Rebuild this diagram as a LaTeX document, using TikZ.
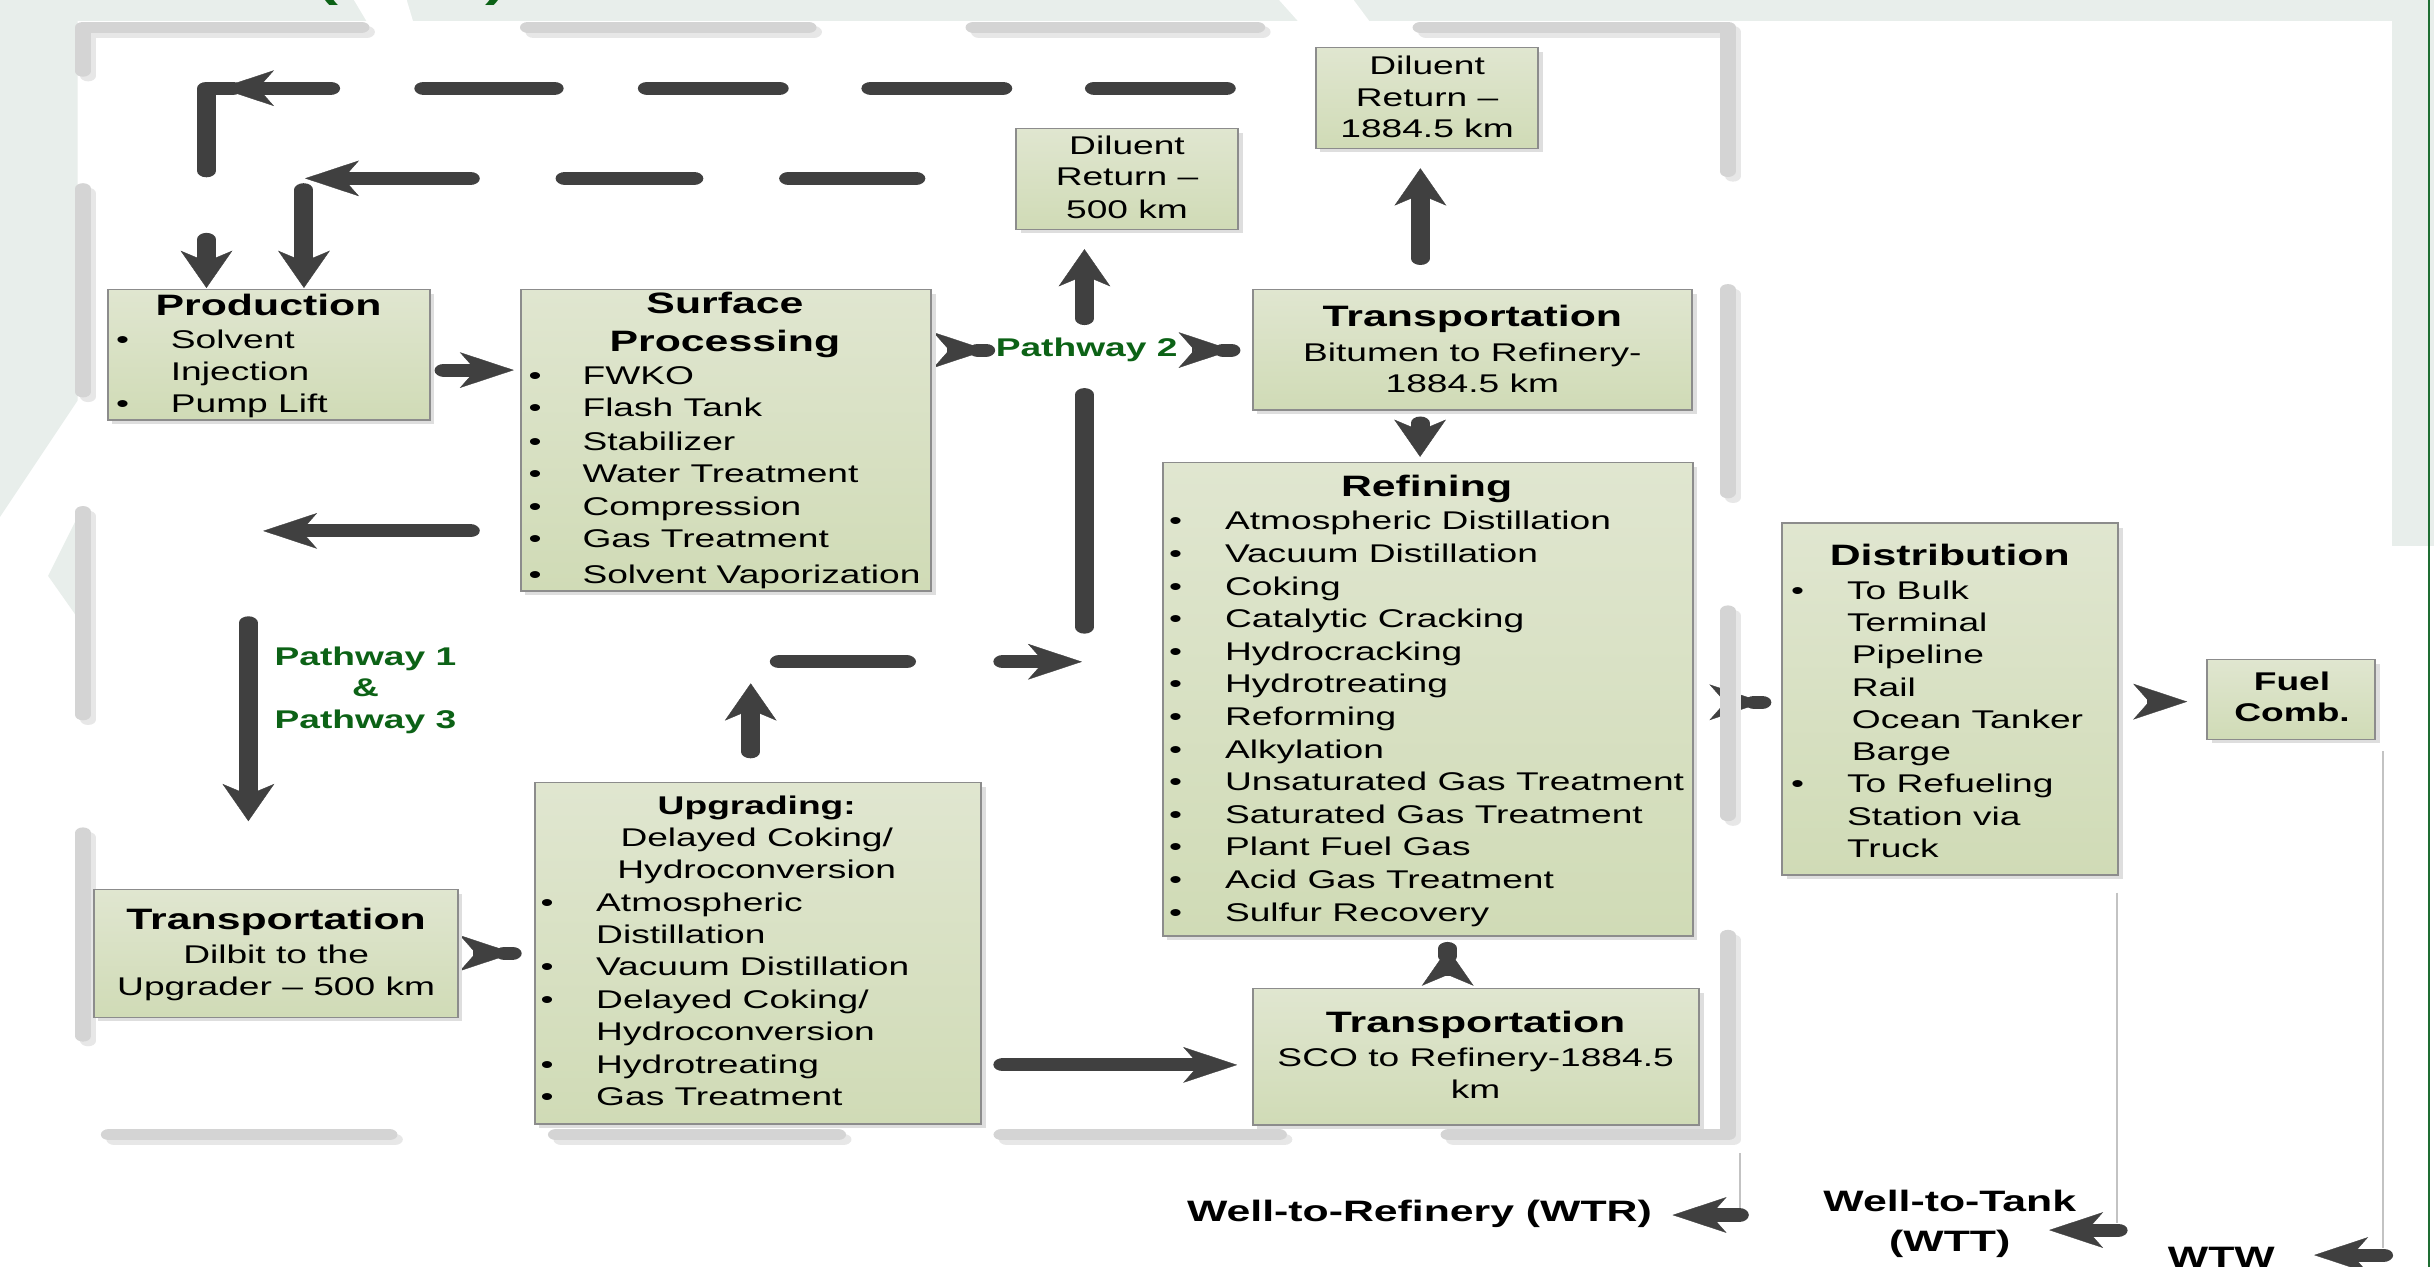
\documentclass[tikz,border=0pt]{standalone}
\usepackage{fontspec}
\setmainfont{Liberation Sans}
\usetikzlibrary{arrows.meta,fit}
\definecolor{bgc}{RGB}{232,238,235}
\definecolor{arr}{RGB}{64,64,64}
\definecolor{pgreen}{RGB}{12,98,22}
\definecolor{boxtop}{RGB}{224,230,208}
\definecolor{boxbot}{RGB}{208,219,182}
\definecolor{boxline}{RGB}{140,140,140}
\definecolor{shc}{RGB}{222,222,222}
\definecolor{brd}{RGB}{212,212,212}
\definecolor{brdsh}{RGB}{231,231,231}
\definecolor{thinc}{RGB}{195,195,195}
\definecolor{edgegreen}{RGB}{30,110,50}
\tikzset{
  conn/.style={draw=arr, line width=4.2pt, line cap=round, line join=round},
  brdline/.style={draw=brd, line width=3.6pt, line cap=round, line join=round},
  brdshadow/.style={draw=brdsh, line width=3.6pt, line cap=round, line join=round},
  thinl/.style={draw=thinc, line width=0.4pt},
  box/.style={draw=boxline, line width=0.45pt, top color=boxtop, bottom color=boxbot, inner sep=0pt, outer sep=0pt},
  tx/.style={inner sep=0pt, anchor=base, font=\fontsize{8.25}{10}\selectfont},
  txl/.style={tx, anchor=base west},
  ttl/.style={inner sep=0pt, anchor=base, font=\bfseries\fontsize{9.5}{11}\selectfont},
  sttl/.style={inner sep=0pt, anchor=base, font=\bfseries\fontsize{8.25}{10}\selectfont},
  pw/.style={sttl, text=pgreen},
  bl/.style={inner sep=0pt, anchor=base, font=\bfseries\fontsize{9.5}{11}\selectfont},
}
\newcommand{\dbox}[5]{%
  \fill[shc] (#2+3,#3+3) rectangle (#4+3,#5+2.6);
  \node[box, fit={(#2,#3) (#4,#5)}] (#1) {};}
\newcommand{\brdpaths}[1]{%
  \draw[#1] (53.4,45.8) -- (53.4,17.6) -- (232.8,17.6);
  \draw[#1] (340.2,17.6) -- (520.8,17.6);
  \draw[#1] (627.2,17.6) -- (809.8,17.6);
  \draw[#1] (915.2,17.6) -- (1113,17.6) -- (1113,110.4);
  \draw[#1] (1113,186.6) -- (1113,317.4);
  \draw[#1] (1113,393.6) -- (1113,525.4);
  \draw[#1] (1113,602.6) -- (1113,731) -- (933.2,731);
  \draw[#1] (70.2,731) -- (250.8,731);
  \draw[#1] (358.2,731) -- (539.8,731);
  \draw[#1] (645.2,731) -- (823.8,731);
  \draw[#1] (53.4,121.6) -- (53.4,252.4);
  \draw[#1] (53.4,329.6) -- (53.4,460.4);
  \draw[#1] (53.4,536.6) -- (53.4,667.4);}
\begin{document}
\begin{tikzpicture}[x=0.5pt,y=-0.5pt]
\useasboundingbox (0,0) rectangle (1568,816);
\clip (0,0) rectangle (1568,816);
\fill[white] (0,0) rectangle (1568,816);
% background template
\fill[bgc] (0,0) rectangle (1568,13.3);
\fill[bgc] (0,0) -- (50,0) -- (50,258) -- (0,333) -- cycle;
\fill[bgc] (50,333) -- (31,371) -- (50,398) -- cycle;
\fill[bgc] (1541,0) rectangle (1568,352);
\fill[white] (228,0) -- (262,0) -- (266,13.4) -- (236,13.4) -- cycle;
\fill[white] (824,0) -- (872,0) -- (882,13.4) -- (836,13.4) -- cycle;
\draw[edgegreen, line width=0.7pt] (1565,0) -- (1565,816);

\begin{scope}[transform canvas={xscale=1.45}, x=0.344828pt, y=-0.5pt,
  >={Stealth[length=12pt,width=11.5pt,inset=3.5pt,line width=0.1pt]}]
% cut-off title parentheses
\node[inner sep=0pt, anchor=base, text=pgreen, font=\bfseries\fontsize{14}{14}\selectfont] (parL) at (211,-2) {(};
\node[inner sep=0pt, anchor=base, text=pgreen, font=\bfseries\fontsize{14}{14}\selectfont] (parR) at (319.5,-2) {)};

% ---------- connectors ----------
% top dashed return (1884.5 km)
\draw[conn] (133,110) -- (133,56.8) -- (150,56.8);
\draw[conn,->] (213,56.8) -- (141.7,56.8);
\foreach \a/\b in {273/357,417/502,561/646,705/790} \draw[conn] (\a,56.8) -- (\b,56.8);
\draw[conn,->] (133,154.2) -- (133,185.5);
% dashed return (500 km)
\draw[conn,->] (303,114.9) -- (196.5,114.9);
\foreach \a/\b in {364/447,508/590} \draw[conn] (\a,114.9) -- (\b,114.9);
\draw[conn,->] (195.8,122.2) -- (195.8,185.5);
% production -> surface
\draw[conn,->] (286,238.4) -- (331,238.4);
% surface -> left
\draw[conn,->] (303,342) -- (169.5,342);
% pathway 1 & 3
\draw[conn,->] (160,401.2) -- (160,529);
% upgrading up
\draw[conn,->] (483.6,484.3) -- (483.6,440.2);
\draw[conn] (502,426.3) -- (584,426.3);
\draw[conn,->] (646,426.3) -- (697,426.3);
\draw[conn] (698.6,254.2) -- (698.6,404);
\draw[conn,->] (698.6,205.2) -- (698.6,160.5);
% bitumen transport -> diluent 1884.5
\draw[conn,->] (915,166.5) -- (915,108.4);
% bitumen transport -> refining
\draw[conn,->] (914.8,272.5) -- (914.8,294.3);
% SCO -> refining
\draw[conn,->,line cap=butt] (932.6,629) -- (932.6,611);
\draw[conn] (932.6,611) -- (932.6,616);
% pathway 2 flares
\draw[conn,->,line cap=butt] (610,225.5) -- (636,225.5);
\draw[conn] (630,225.5) -- (635,225.5);
\draw[conn,->,line cap=butt] (768,225.5) -- (794,225.5);
\draw[conn] (788,225.5) -- (793,225.5);
% dilbit -> upgrading
\draw[conn,->,line cap=butt] (305,614) -- (331,614);
\draw[conn] (325,614) -- (330,614);
% refining -> distribution
\draw[conn,->,line cap=butt] (1110,452.4) -- (1136,452.4);
\draw[conn] (1130,452.4) -- (1135,452.4);
% distribution -> fuel comb
\draw[conn,->,line cap=butt] (1383,452) -- (1409,452);
% upgrading -> SCO transport
\draw[conn,->] (646,686) -- (797,686);
% bottom scope arrows
\draw[thinl] (1121,743) -- (1121,779);
\draw[conn,->] (1120.5,782.7) -- (1077.4,782.7);
\draw[thinl] (1364,575) -- (1364,788);
\draw[conn,->] (1364.5,792.4) -- (1320,792.4);
\draw[thinl] (1535,484) -- (1535,804);
\draw[conn,->] (1535.5,808.5) -- (1490.7,808.5);

% ---------- grey dashed boundary ----------
\begin{scope}[shift={(3.5,3)}]\brdpaths{brdshadow}\end{scope}
\brdpaths{brdline}

% ---------- boxes ----------
\dbox{prod}{69.4}{186.4}{276.7}{270.6}
\dbox{surf}{335.4}{186.4}{599.8}{380.7}
\dbox{dilA}{654.4}{82.7}{797.5}{147.7}
\dbox{dilB}{847.6}{30.7}{991}{95.6}
\dbox{tbit}{807}{186.4}{1090}{264}
\dbox{refi}{749}{298}{1090.4}{603}
\dbox{dist}{1148}{337}{1364.5}{563.7}
\dbox{fuel}{1422}{424.7}{1530}{476.3}
\dbox{tdil}{60.4}{572.9}{294.9}{655.4}
\dbox{upgr}{344.5}{504.2}{632}{724}
\dbox{tsco}{807}{636.7}{1094.6}{724.7}

% ---------- texts ----------
% production
\node[ttl] (prodT) at (173,203) {Production};
\node[tx] (prodB1) at (79,224.5) {\textbullet};
\node[txl] (prodL1) at (109.5,224.5) {Solvent};
\node[txl] (prodL2) at (109.5,245.3) {Injection};
\node[tx] (prodB2) at (79,266) {\textbullet};
\node[txl] (prodL3) at (109.5,266) {Pump Lift};
% surface processing
\node[ttl] (surfT1) at (467,202) {Surface};
\node[ttl] (surfT2) at (467,226.5) {Processing};
\foreach \t/\yy [count=\i] in {FWKO/248, Flash Tank/268.6, Stabilizer/290, Water Treatment/311, Compression/331.8, Gas Treatment/353, Solvent Vaporization/375.8}{
  \node[tx] (surfB\i) at (344.7,\yy) {\textbullet};
  \node[txl] (surfL\i) at (374.7,\yy) {\t};
}
% diluent returns
\node[tx] (dilA1) at (726,99.2) {Diluent};
\node[tx] (dilA2) at (726,119.8) {Return \textendash};
\node[tx] (dilA3) at (726,140.6) {500 km};
\node[tx] (dilB1) at (919.3,47.7) {Diluent};
\node[tx] (dilB2) at (919.3,68.3) {Return \textendash};
\node[tx] (dilB3) at (919.3,88.6) {1884.5 km};
% bitumen transport
\node[ttl] (tbitT) at (948.5,210.4) {Transportation};
\node[tx] (tbit1) at (948.5,232.6) {Bitumen to Refinery-};
\node[tx] (tbit2) at (948.5,252.8) {1884.5 km};
% pathway labels
\node[pw] (pw2) at (700,229.8) {Pathway 2};
\node[pw] (pw1) at (235.4,428.4) {Pathway 1};
\node[pw] (pwand) at (235.4,448.6) {\&};
\node[pw] (pw3) at (235.4,469.2) {Pathway 3};
% refining
\node[ttl] (refT) at (919,320) {Refining};
\foreach \t [count=\i from 0] in {Atmospheric Distillation, Vacuum Distillation, Coking, Catalytic Cracking, Hydrocracking, Hydrotreating, Reforming, Alkylation, Unsaturated Gas Treatment, Saturated Gas Treatment, Plant Fuel Gas, Acid Gas Treatment, Sulfur Recovery}{
  \node[tx] (refB\i) at (757.4,341.4+21*\i) {\textbullet};
  \node[txl] (refL\i) at (788.6,341.4+21*\i) {\t};
}
% distribution
\node[ttl] (distT) at (1256,364) {Distribution};
\node[tx] (distB1) at (1158,386) {\textbullet};
\node[tx] (distB2) at (1158,510.8) {\textbullet};
\foreach \t/\xx [count=\i from 0] in {To Bulk/1189.3, Terminal/1189.3, Pipeline/1192.4, Rail/1192.4, Ocean Tanker/1192.4, Barge/1192.4, To Refueling/1189.3, Station via/1189.3, Truck/1189.3}{
  \node[txl] (distL\i) at (\xx,386+20.8*\i) {\t};
}
% fuel comb
\node[sttl] (fuel1) at (1476.5,444.5) {Fuel};
\node[sttl] (fuel2) at (1476.5,465) {Comb.};
% dilbit transport
\node[ttl] (tdilT) at (177.9,599) {Transportation};
\node[tx] (tdil1) at (177.9,620.6) {Dilbit to the};
\node[tx] (tdil2) at (177.9,641.4) {Upgrader \textendash{} 500 km};
% upgrading
\node[sttl] (upgT) at (487.5,525) {Upgrading:};
\node[tx] (upg1) at (487.5,545.4) {Delayed Coking/};
\node[tx] (upg2) at (487.5,565.8) {Hydroconversion};
\node[tx] (upgB1) at (352.4,587.3) {\textbullet};
\node[txl] (upgL1) at (383.5,587.3) {Atmospheric};
\node[txl] (upgL2) at (383.5,607.7) {Distillation};
\node[tx] (upgB3) at (352.4,628.7) {\textbullet};
\node[txl] (upgL3) at (383.5,628.7) {Vacuum Distillation};
\node[tx] (upgB4) at (352.4,649.6) {\textbullet};
\node[txl] (upgL4) at (383.5,649.6) {Delayed Coking/};
\node[txl] (upgL5) at (383.5,670.4) {Hydroconversion};
\node[tx] (upgB6) at (352.4,691.5) {\textbullet};
\node[txl] (upgL6) at (383.5,691.5) {Hydrotreating};
\node[tx] (upgB7) at (352.4,711.9) {\textbullet};
\node[txl] (upgL7) at (383.5,711.9) {Gas Treatment};
% SCO transport
\node[ttl] (tscoT) at (950.6,665.3) {Transportation};
\node[tx] (tsco1) at (950.6,687.2) {SCO to Refinery-1884.5};
\node[tx] (tsco2) at (950.6,707.6) {km};
% bottom labels
\node[bl, anchor=base east] (wtr) at (1064.7,787) {Well-to-Refinery (WTR)};
\node[bl] (wtt1) at (1256,780.6) {Well-to-Tank};
\node[bl] (wtt2) at (1256,806.4) {(WTT)};
\node[bl] (wtw) at (1431,816.5) {WTW};
\end{scope}
\end{tikzpicture}
\end{document}
